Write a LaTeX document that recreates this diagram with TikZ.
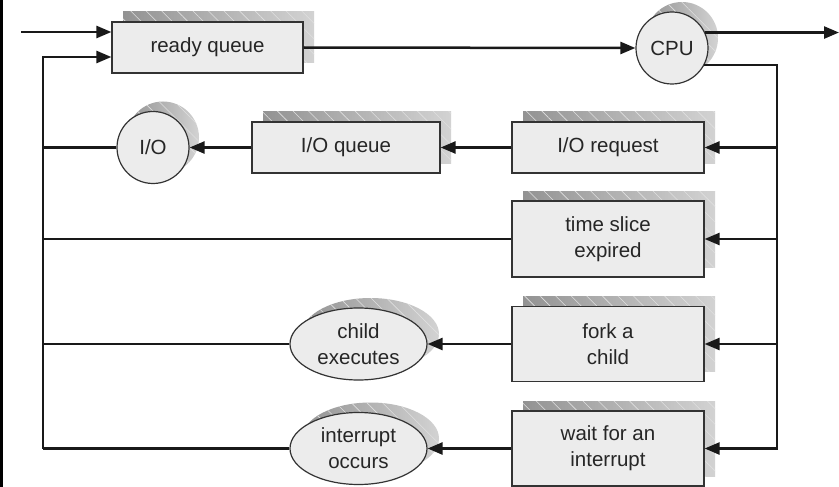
\documentclass[tikz,border=0pt]{standalone}
\usepackage{fontspec}
\setmainfont{Liberation Sans}
\usetikzlibrary{arrows.meta,shapes.geometric,shadows,patterns.meta}
\begin{document}
\begin{tikzpicture}[x=1pt,y=-1pt,
  every node/.style={font=\fontsize{20.5}{26}\selectfont, text=black!85},
  shad/.style={general shadow={shadow xshift=#1,shadow yshift=10pt,left color=gray!85,right color=gray!35},
               general shadow={shadow xshift=#1,shadow yshift=10pt,pattern={Lines[angle=-45,distance=11pt,line width=0.6pt]},pattern color=white!75!gray}},
  box/.style={shad=11pt,draw=black!80,line width=1.2pt,fill=gray!15,minimum width=192pt,minimum height=51pt,align=center,inner sep=0pt},
  circ/.style={shad=10pt,circle,draw=black!80,line width=1.2pt,fill=gray!15,minimum size=72pt,inner sep=0pt},
  ell/.style={shad=12pt,ellipse,draw=black!80,line width=1.2pt,fill=gray!15,minimum width=137pt,minimum height=72pt,inner sep=0pt,align=center},
  ln/.style={draw=black!90,line width=2.5pt},
  arr/.style={ln,-{Triangle[length=15pt,width=12pt]}}
]
\useasboundingbox (0,0) rectangle (839,487);
\fill[black] (0,0) rectangle (3,487);

\node[box, minimum width=191pt] (rq) at (207.5,47.5) {ready queue};
\node[circ] (cpu) at (672,48) {CPU};
\node[box] (req) at (608,147.5) {I/O request};
\node[box, minimum width=188pt] (ioq) at (346,147.5) {I/O queue};
\node[circ] (io) at (153,147.5) {I/O};
\node[box, minimum height=76pt] (ts) at (608,239) {time slice\\expired};
\node[box, minimum height=75pt] (fork) at (608,344) {fork a\\child};
\node[box, minimum height=75pt] (wait) at (608,448.5) {wait for an\\interrupt};
\node[ell] (child) at (358.5,344) {child\\executes};
\node[ell] (intr) at (358.5,448.5) {interrupt\\occurs};

\coordinate (lb) at (43,57);
\coordinate (in) at (21,32);
\coordinate (out) at (839,33);
\coordinate (bus) at (777,66);

\draw[arr] (in) -- (in -| rq.west);
\draw[arr] (lb |- intr.west) -- (lb) -- (lb -| rq.west);
\draw[ln] (io.west) -- (io.west -| lb);
\draw[ln] (ts.west) -- (ts.west -| lb);
\draw[ln] (child.west) -- (child.west -| lb);
\draw[ln] (intr.west) -- (intr.west -| lb);
\draw[arr] (rq.east) -- (cpu.west);
\draw[arr] (cpu.25) -- (cpu.25 -| out);
\draw[arr] (cpu.-28) -- (cpu.-28 -| bus) |- (wait.east);
\draw[arr] (bus |- req.east) -- (req.east);
\draw[arr] (bus |- ts.east) -- (ts.east);
\draw[arr] (bus |- fork.east) -- (fork.east);
\draw[arr] (req.west) -- (ioq.east);
\draw[arr] (ioq.west) -- (io.east);
\draw[arr] (fork.west) -- (child.east);
\draw[arr] (wait.west) -- (intr.east);
\end{tikzpicture}
\end{document}
